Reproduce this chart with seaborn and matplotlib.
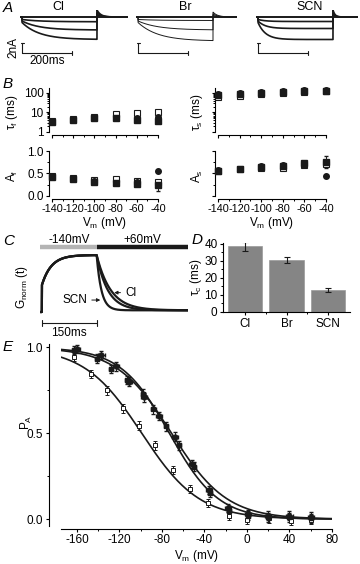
import numpy as np
import pandas as pd
import seaborn as sns
import matplotlib.pyplot as plt
from matplotlib.ticker import MultipleLocator, FixedLocator, NullFormatter, LogLocator, FuncFormatter

# ---------------- data ----------------
anions = ["Cl", "Br", "SCN"]

# A: current traces (nA) for three test pulses, per anion
a_inst = [-0.5, -0.8, -1.1]
a_ss_cl = [-0.95, -2.6, -4.5]
a_ss_br = [-0.7, -2.6, -4.8]
a_ss_scn = [-0.9, -2.3, -4.5]
a_tau_act = [70, 80, 30]          # ms
a_tail = [0.5, 0.9, 1.4]          # nA
a_tail_tau = [15, 18, 8]          # ms
a_pulse = 300                      # ms
a_tend = [425, 395, 400]

# B: two-exponential fits vs voltage
b_v = [-140, -120, -100, -80, -60, -40]
tf_circ = [3.6, 4.6, 5.8, 5.5, 5.2, 6.0]
tf_sq = [3.3, 4.3, 5.4, 5.2, 4.2, 3.8]
tf_open = [3.8, 4.8, 6.2, 8.5, 9.0, 11.0]
af_circ = [0.44, 0.39, 0.33, 0.29, 0.31, 0.55]
af_sq = [0.42, 0.37, 0.32, 0.28, 0.26, 0.24]
af_open = [0.45, 0.40, 0.36, 0.37, 0.34, 0.30]
af_sq_err = [0.02, 0.02, 0.02, 0.03, 0.04, 0.12]
ts_circ = [85, 95, 110, 120, 140, 140]
ts_sq = [75, 85, 100, 110, 130, 130]
ts_open = [60, 70, 85, 100, 110, 120]
as_circ = [0.57, 0.61, 0.66, 0.69, 0.70, 0.45]
as_sq = [0.56, 0.60, 0.64, 0.67, 0.74, 0.76]
as_open = [0.55, 0.59, 0.62, 0.63, 0.68, 0.72]
as_sq_err = [0.02, 0.02, 0.03, 0.03, 0.04, 0.13]

# C: normalized conductance time course
c_step = 150            # ms at -140 mV
c_inst = 0.47
c_tau_rise = 26         # ms
c_end = 0.03

# D: deactivation time constants
tau_c = [38.5, 30.5, 13.0]
tau_c_err = [2.5, 1.5, 1.2]

# E: apparent open probability
e_circ_v = [-160, -137, -123, -111, -97, -83, -68, -52, -36, -18, 1, 20, 40, 60]
e_circ_p = [0.99, 0.955, 0.89, 0.80, 0.71, 0.60, 0.48, 0.32, 0.17, 0.065, 0.03, 0.02, 0.02, 0.014]
e_sq_v = [-163, -141, -128, -113, -98, -88, -76, -64, -50, -35, -17, 1, 20, 40, 60]
e_sq_p = [0.985, 0.935, 0.875, 0.81, 0.73, 0.64, 0.54, 0.43, 0.305, 0.155, 0.045, 0.02, 0.01, 0.01, 0.005]
e_open_v = [-163, -147, -132, -117, -102, -87, -70, -54, -37, -17, 0, 21, 41, 60]
e_open_p = [0.945, 0.845, 0.75, 0.645, 0.545, 0.43, 0.285, 0.175, 0.095, 0.02, -0.005, 0.005, -0.01, -0.005]
e_vhalf = [-73, -71, -99]
e_slope = [23, 26, 27]

# ---------------- style ----------------
sns.set_theme(style="ticks")
plt.rcParams['font.family'] = ['Liberation Sans', 'DejaVu Sans']
plt.rcParams.update({
    'axes.unicode_minus': False, 'font.size': 8.5,
    'xtick.labelsize': 8.5, 'ytick.labelsize': 8.5, 'axes.labelsize': 8.5,
    'mathtext.fontset': 'custom', 'mathtext.rm': 'Liberation Sans',
    'mathtext.it': 'Liberation Sans', 'mathtext.default': 'regular',
    'axes.linewidth': 0.8, 'xtick.major.width': 0.8, 'ytick.major.width': 0.8,
    'xtick.minor.width': 0.7, 'ytick.minor.width': 0.7,
    'xtick.major.size': 2.5, 'ytick.major.size': 2.5,
    'xtick.minor.size': 1.5, 'ytick.minor.size': 1.5,
    'xtick.major.pad': 1.5, 'ytick.major.pad': 1.5,
    'axes.edgecolor': 'black', 'xtick.color': 'black', 'ytick.color': 'black',
    'text.color': 'black', 'axes.labelcolor': 'black',
})

W, H = 360, 564
fig = plt.figure(figsize=(W / 100, H / 100), dpi=100)


def box(x0, y0, x1, y1):
    return fig.add_axes([x0 / W, 1 - y1 / H, (x1 - x0) / W, (y1 - y0) / H])


def letter(x, y, s):
    fig.text(x / W, 1 - y / H, s, fontsize=11, style='italic', va='center')


# ---------------- A ----------------
letter(3, 8, 'A')
a_ss = [a_ss_cl, a_ss_br, a_ss_scn]
a_t0 = [22, 138, 258]
a_title_t = [144, 188, 208]
scale = 0.25   # px per ms
for k, name in enumerate(anions):
    ax = box(a_t0[k] - 10 * scale, 10, a_t0[k] + a_tend[k] * scale, 65)
    ax.set_xlim(-10, a_tend[k])
    ax.set_ylim(-9.6, 1.4)
    ax.axis('off')
    t = np.linspace(-10, a_tend[k], 2000)
    lw = 0.7 if name == "Br" else 1.2
    ax.plot(t, np.zeros_like(t), color='k', lw=1.4)
    for j in range(3):
        i = np.zeros_like(t)
        on = (t >= 0) & (t < a_pulse)
        i[on] = a_inst[j] + (a_ss[k][j] - a_inst[j]) * (1 - np.exp(-t[on] / a_tau_act[k]))
        off = t >= a_pulse
        amp = a_tail[j] * (0.7 if name == "Br" else 1.0)
        i[off] = amp * np.exp(-(t[off] - a_pulse) / a_tail_tau[k])
        ax.plot(t, i, color='k', lw=lw)
    ax.plot([0, 0], [-5.1, -7.1], color='k', lw=0.8, clip_on=False)
    ax.plot([-6, 6], [-5.1, -5.1], color='k', lw=0.8, clip_on=False)
    ax.plot([0, 200], [-7.1, -7.1], color='k', lw=0.8, clip_on=False)
    ax.plot([200, 200], [-6.7, -7.5], color='k', lw=0.8, clip_on=False)
    ax.text(a_title_t[k], 2.0, name, ha='center', va='center', fontsize=9)
    if k == 0:
        ax.text(-36, -6.1, '2nA', rotation=90, ha='center', va='center')
        ax.text(100, -8.9, '200ms', ha='center', va='center')

# ---------------- B ----------------
letter(3, 84, 'B')


def bpanel(rect, circ, sq, opn, log, labels, ylabel, ylx, sq_err=None):
    ax = box(*rect)
    kw = dict(ms=4, clip_on=False, zorder=3, elinewidth=0.7, capsize=1.5, ecolor='k')
    ax.errorbar(b_v, opn, fmt='s', mfc='white', mec='k', mew=0.8, **kw)
    ax.errorbar(b_v, sq, yerr=sq_err, fmt='s', color='k', **kw)
    ax.errorbar(b_v, circ, fmt='o', color='k', **kw)
    ax.set_xlim(-140, -40)
    ax.xaxis.set_major_locator(MultipleLocator(20))
    ax.xaxis.set_minor_locator(MultipleLocator(10))
    ax.tick_params(axis='x', labelsize=7.8, pad=1)
    if log:
        ax.set_yscale('log')
        ax.set_ylim(1, 180)
        ax.yaxis.set_major_locator(FixedLocator([1, 10, 100]))
        ax.yaxis.set_major_formatter(FuncFormatter(lambda v, p: f'{v:g}'))
        ax.yaxis.set_minor_locator(LogLocator(base=10, subs=np.arange(2, 10)))
        ax.yaxis.set_minor_formatter(NullFormatter())
    else:
        ax.set_ylim(0, 1)
        ax.yaxis.set_major_locator(MultipleLocator(0.5))
        ax.yaxis.set_minor_locator(MultipleLocator(0.25))
        ax.yaxis.set_major_formatter(plt.FormatStrFormatter('%.1f'))
    if not labels:
        ax.yaxis.set_major_formatter(NullFormatter())
    if log:
        ax.xaxis.set_major_formatter(NullFormatter())
    else:
        ax.set_xlabel('$V_m$ (mV)', labelpad=1)
    ax.set_ylabel(ylabel)
    ax.yaxis.set_label_coords(ylx, 0.45)
    sns.despine(ax=ax, offset=2)
    return ax


bpanel((52, 88, 158, 132), tf_circ, tf_sq, tf_open, True, True, r'$\tau_f$ (ms)', -0.30)
bpanel((52, 151, 158, 196), af_circ, af_sq, af_open, False, True, '$A_f$', -0.30, af_sq_err)
bpanel((218, 88, 326, 132), ts_circ, ts_sq, ts_open, True, False, r'$\tau_s$ (ms)', -0.12)
bpanel((218, 151, 326, 196), as_circ, as_sq, as_open, False, False, '$A_s$', -0.12, as_sq_err)

# ---------------- C ----------------
letter(3, 241, 'C')
ax = box(40, 250, 188, 318)
ax.set_xlim(-5, 400)
ax.set_ylim(-0.105, 1.088)
ax.axis('off')
t = np.linspace(-5, 400, 3000)
for tau in tau_c:
    g = np.zeros_like(t)
    on = (t >= 0) & (t < c_step)
    g[on] = 1 - (1 - c_inst) * np.exp(-t[on] / c_tau_rise)
    g150 = 1 - (1 - c_inst) * np.exp(-c_step / c_tau_rise)
    off = t >= c_step
    g[off] = c_end + (g150 - c_end) * np.exp(-(t[off] - c_step) / tau)
    sns.lineplot(x=t, y=g, color='k', lw=1.6, ax=ax)
ax.plot([-5, c_step], [1.14, 1.14], color='#b4b4b4', lw=3.2, solid_capstyle='butt', clip_on=False)
ax.plot([c_step, 400], [1.14, 1.14], color='k', lw=3.2, solid_capstyle='butt', clip_on=False)
ax.text(75, 1.27, '-140mV', ha='center', va='center')
ax.text(275, 1.27, '+60mV', ha='center', va='center')
ax.annotate('Cl', xy=(198, 0.34), xytext=(228, 0.34), va='center', ha='left',
            arrowprops=dict(arrowstyle='-|>', lw=0.7, color='k', mutation_scale=5,
                            shrinkA=1, shrinkB=0))
ax.annotate('SCN', xy=(160, 0.21), xytext=(124, 0.21), va='center', ha='right',
            arrowprops=dict(arrowstyle='-|>', lw=0.7, color='k', mutation_scale=5,
                            shrinkA=1, shrinkB=0))
ax.plot([0, c_step], [-0.19, -0.19], color='k', lw=0.8, clip_on=False)
ax.plot([0, 0], [-0.14, -0.24], color='k', lw=0.8, clip_on=False)
ax.plot([c_step, c_step], [-0.14, -0.24], color='k', lw=0.8, clip_on=False)
ax.text(c_step / 2, -0.36, '150ms', ha='center', va='center')
ax.text(-0.12, 0.45, '$G_{norm}$ (t)', rotation=90, ha='center', va='center',
        transform=ax.transAxes)

# ---------------- D ----------------
letter(192, 240, 'D')
ax = box(223, 243, 350, 312)
dfd = pd.DataFrame({'anion': anions, 'tau': tau_c})
sns.barplot(data=dfd, x='anion', y='tau', color='#858585', saturation=1, width=0.82,
            edgecolor='#9a9a9a', linewidth=0.5, ax=ax)
ax.errorbar(range(3), tau_c, yerr=tau_c_err, fmt='none', ecolor='k', elinewidth=0.8,
            capsize=2, capthick=0.8)
ax.set_xlim(-0.52, 2.52)
ax.set_ylim(0, 40.5)
ax.yaxis.set_major_locator(MultipleLocator(10))
ax.yaxis.set_minor_locator(MultipleLocator(5))
ax.xaxis.set_minor_locator(FixedLocator([0.5, 1.5]))
ax.set_xlabel('')
ax.set_ylabel(r'$\tau_c$ (ms)')
ax.yaxis.set_label_coords(-0.15, 0.5)
sns.despine(ax=ax)

# ---------------- E ----------------
letter(3, 347, 'E')
ax = box(61, 344, 332, 526)
kw = dict(ms=3.5, elinewidth=0.7, capsize=1.5, ecolor='k', zorder=3, clip_on=False)
ax.errorbar(e_open_v, e_open_p, yerr=0.025, fmt='s', mfc='white', mec='k', mew=0.7, **kw)
ax.errorbar(e_sq_v, e_sq_p, yerr=0.025, xerr=2, fmt='s', color='k', **kw)
ax.errorbar(e_circ_v, e_circ_p, yerr=0.025, xerr=3, fmt='o', color='k', **kw)
v_fit = np.linspace(-175, 80, 400)
for vh, k in zip(e_vhalf, e_slope):
    sns.lineplot(x=v_fit, y=1 / (1 + np.exp((v_fit - vh) / k)), color='k', lw=1.2, ax=ax)
ax.set_xlim(-175, 80)
ax.set_ylim(-0.04, 1.02)
ax.set_xticks([-160, -120, -80, -40, 0, 40, 80])
ax.xaxis.set_minor_locator(MultipleLocator(20))
ax.yaxis.set_major_locator(FixedLocator([0, 0.5, 1.0]))
ax.yaxis.set_minor_locator(MultipleLocator(0.25))
ax.yaxis.set_major_formatter(plt.FormatStrFormatter('%.1f'))
ax.set_xlabel('$V_m$ (mV)', labelpad=1)
ax.set_ylabel('$P_A$')
ax.yaxis.set_label_coords(-0.10, 0.57)
sns.despine(ax=ax)
ax.spines['left'].set_position(('outward', 9))
ax.spines['bottom'].set_position(('outward', 2))

fig.savefig('out.png', dpi=100)
